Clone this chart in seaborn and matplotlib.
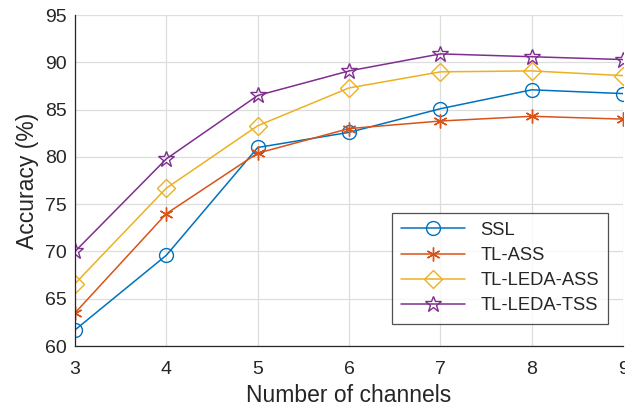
import pandas as pd
import numpy as np
import seaborn as sns
import matplotlib.pyplot as plt

channels = [3, 4, 5, 6, 7, 8, 9]
ssl = [61.7, 69.6, 81.0, 82.6, 85.1, 87.1, 86.7]
tl_ass = [63.5, 74.0, 80.4, 83.0, 83.8, 84.3, 84.0]
tl_leda_ass = [66.6, 76.7, 83.3, 87.3, 89.0, 89.1, 88.6]
tl_leda_tss = [70.0, 79.8, 86.5, 89.1, 90.9, 90.6, 90.3]
methods = ['SSL', 'TL-ASS', 'TL-LEDA-ASS', 'TL-LEDA-TSS']

df = pd.DataFrame({
    'ch': channels * 4,
    'acc': ssl + tl_ass + tl_leda_ass + tl_leda_tss,
    'method': np.repeat(methods, len(channels)),
})

sns.set_style('white')
plt.rcParams['font.family'] = ['Liberation Sans', 'DejaVu Sans']

colors = ['#0072BD', '#D95319', '#EDB120', '#7E2F8E']
marks = {'SSL': 'o', 'TL-ASS': (6, 2, 0), 'TL-LEDA-ASS': 'D', 'TL-LEDA-TSS': '*'}
sizes = {'SSL': 10, 'TL-ASS': 10, 'TL-LEDA-ASS': 9, 'TL-LEDA-TSS': 12}

fig = plt.figure(figsize=(6.25, 4.09), dpi=100)
ax = fig.add_axes([0.12, 0.154, 0.877, 0.809])

for m, c in zip(methods, colors):
    sub = df[df['method'] == m]
    sns.lineplot(data=sub, x='ch', y='acc', ax=ax, color=c, lw=1.1,
                 marker=marks[m], markersize=sizes[m], mfc='none', mec=c,
                 mew=1.0, label=m)

ax.set_xlim(3, 9)
ax.set_ylim(60, 95)
ax.set_xticks(channels)
ax.set_yticks(range(60, 96, 5))
ax.grid(True, color='#dddddd', lw=0.9)
ax.tick_params(direction='in', labelsize=14, length=4, colors='#262626')
ax.tick_params(axis='x', pad=11)
ax.tick_params(axis='y', pad=6)
for s in ['top', 'right']:
    ax.spines[s].set_visible(False)
for s in ['left', 'bottom']:
    ax.spines[s].set_color('#262626')
    ax.spines[s].set_linewidth(0.9)
ax.set_xlabel('Number of channels', fontsize=16.5, color='#262626', labelpad=4)
ax.set_ylabel('Accuracy (%)', fontsize=16.5, color='#262626', labelpad=4)

leg = ax.legend(loc='lower right', bbox_to_anchor=(0.989, 0.04), fontsize=13.2,
                frameon=True, fancybox=False, edgecolor='#262626',
                handlelength=3.5, borderpad=0.5, labelspacing=0.45)
leg.get_frame().set_linewidth(0.9)

fig.savefig('out.png', dpi=100)
